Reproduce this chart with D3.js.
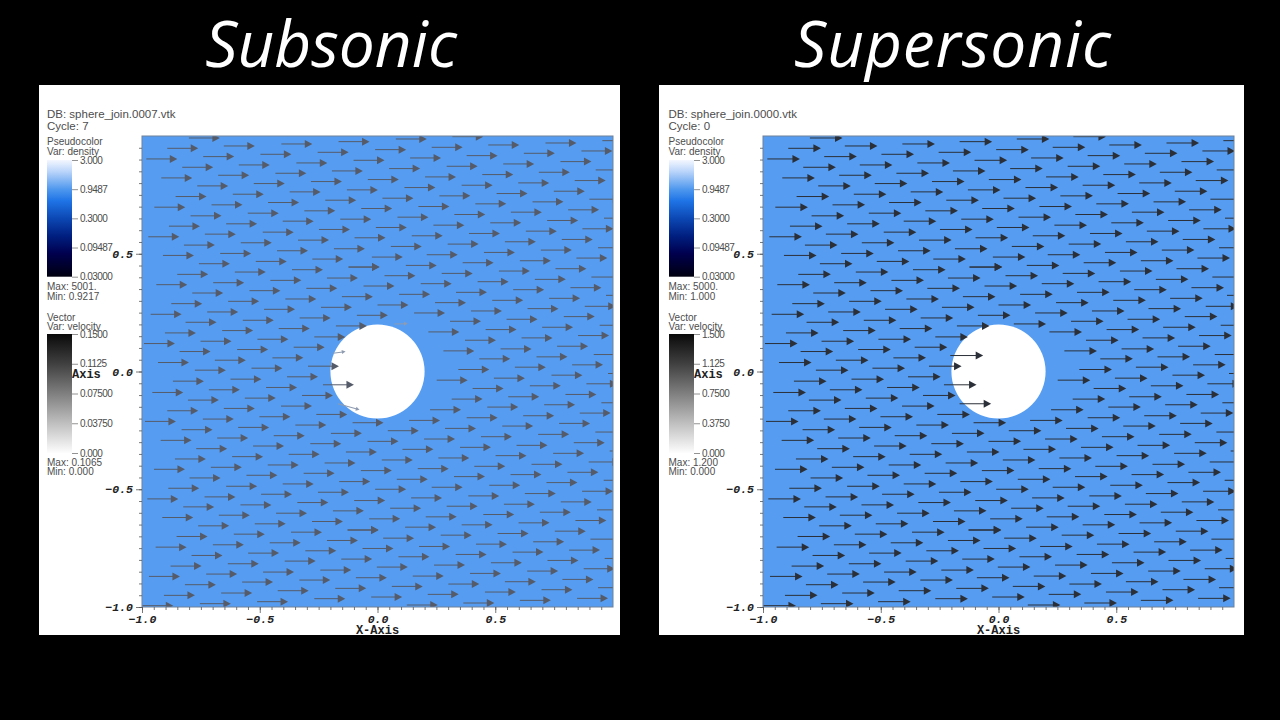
<!DOCTYPE html>
<html>
<head>
<meta charset="utf-8">
<script src="https://cdn.jsdelivr.net/npm/d3@7"></script>
<style>
html, body { margin: 0; padding: 0; background: #000; }
svg { display: block; }
</style>
</head>
<body>
<svg id="chart" width="1280" height="720"></svg>
<script>
// panel texts
const titles = ["Subsonic", "Supersonic"];
const dbNames = ["DB: sphere_join.0007.vtk", "DB: sphere_join.0000.vtk"];
const cycles = ["Cycle: 7", "Cycle: 0"];
const densityMaxMin = [["Max: 5001.", "Min: 0.9217"], ["Max: 5000.", "Min: 1.000"]];
const velocityMaxMin = [["Max: 0.1065", "Min: 0.000"], ["Max: 1.200", "Min: 0.000"]];

// colour bar ticks
const densityTicks = [3, 0.9487, 0.3, 0.09487, 0.03];
const densityLabels = ["3.000", "0.9487", "0.3000", "0.09487", "0.03000"];
const velocityTicks = [[0.15, 0.1125, 0.075, 0.0375, 0], [1.5, 1.125, 0.75, 0.375, 0]];
const velocityLabels = [
    ["0.1500", "0.1125", "0.07500", "0.03750", "0.000"],
    ["1.500", "1.125", "0.7500", "0.3750", "0.000"]
];

// axis ticks
const majorTicks = [-1, -0.5, 0, 0.5];
const minorTicks = d3.range(-20, 20).map(d => d * 0.05);

// obstacle
const sphereRadius = 0.2;

// arrow tails, measured in 1/708 of an axis unit
const perUnit = 708;
const arrowLength = 98;

// x counted from x = -1
const seedsWest = [
    [141,702],[76,671],[246,678],[419,684],[591,691],[13,639],[184,646],[356,653],[528,659],[121,614],
    [291,621],[464,627],[58,582],[229,590],[401,596],[571,603],[166,558],[336,565],[508,571],[101,526],
    [273,533],[444,540],[616,546],[37,494],[209,501],[379,508],[551,515],[146,468],[318,476],[488,483],
    [81,437],[253,444],[423,452],[596,458],[19,405],[189,413],[363,419],[532,427],[126,380],[297,387],
    [469,395],[63,349],[235,355],[406,363],[577,369],[171,324],[342,331],[512,338],[106,292],[279,299],
    [451,306],[621,314],[43,261],[214,267],[386,274],[556,281],[151,236],[323,243],[494,250],[88,204],
    [259,211],[431,218],[601,225],[26,172],[196,179],[367,187],[538,193],[131,148],[303,154],[474,161],
    [69,116],[241,123],[411,129],[583,137],[6,84],[176,91],[347,97],[518,104],[113,60],[286,66],
    [456,73],[48,27],[219,34],[392,41],[329,10],[499,16],
    [159,4],[93,-29],[266,-23],[436,-16],[544,-40],[31,-63],[201,-55],[373,-48],[481,-72],[138,-86],
    [309,-80],[76,-118],[246,-111],[418,-104],[524,-129],[633,-154],[9,-150],[183,-143],[353,-136],[461,-161],
    [289,-168],[119,-175],[568,-186],[678,-210],[396,-193],[56,-207],[226,-200],[506,-217],[334,-224],[163,-232],
    [613,-242],[441,-249],[271,-256],[99,-263],[549,-275],[378,-281],[207,-288],[36,-294],[486,-306],[314,-312],
    [143,-320],[593,-331],[423,-338],[253,-345],[79,-351],[529,-363],[358,-369],[188,-377],[16,-383],[124,-407],
    [296,-401],[467,-394],[574,-419],[403,-426],[231,-432],[61,-439],[511,-451],[339,-458],[169,-464],[618,-477],
    [448,-483],[276,-489],[104,-496],[556,-508],[384,-515],[213,-521],[41,-528],[491,-539],[319,-546],[149,-553],
    [599,-564],[429,-570],[258,-578],[86,-585],[536,-597],[364,-603],[193,-609],[21,-616],[473,-627],[301,-633],
    [129,-641],[581,-652],[408,-659],[238,-666],[66,-673],[518,-683],[346,-692],[174,-698],[1,-704]
];

// x counted from x = 0
const seedsEast = [
    [-7,667],[163,674],[333,681],[505,687],[676,694],[55,699],[225,706],[98,642],[268,649],[440,656],
    [613,663],[-72,635],[35,610],[208,617],[378,624],[550,631],[143,585],[315,592],[485,599],[656,606],
    [-29,577],[81,553],[253,560],[423,567],[593,574],[186,528],[358,535],[530,542],[15,521],[-49,490],
    [123,496],[294,504],[466,510],[637,518],[60,464],[231,472],[401,479],[573,486],[168,440],[339,447],
    [510,454],[681,461],[-5,433],[275,415],[446,422],[616,429],[103,408],[-69,402],[383,390],[554,397],
    [211,383],[40,376],[491,365],[320,358],[148,351],[663,372],[598,341],[-17,344],[428,333],[256,327],
    [85,319],[535,309],[365,302],[193,295],[21,288],[643,284],[473,277],[301,270],[130,264],[-87,314],
    [580,252],[408,246],[236,238],[65,232],[-42,257],[687,229],[516,220],[345,214],[173,207],[0,200],
    [623,196],[451,189],[281,182],[110,176],[-62,169],[560,165],[388,157],[218,151],[668,139],[495,133],
    [325,126],[153,119],[603,108],[433,101],[263,94],[540,76],[370,68],[198,62],[650,51],[478,44],
    [306,38],[585,20],[413,13],[243,6],
    [523,-11],[350,-20],[178,-26],[458,-43],[286,-51],[628,-37],[565,-69],[393,-76],[223,-83],[673,-94],
    [501,-100],[330,-107],[158,-115],[608,-125],[438,-133],[268,-139],[95,-147],[546,-156],[375,-164],[203,-171],
    [31,-178],[655,-182],[483,-189],[311,-196],[140,-203],[590,-214],[418,-222],[248,-228],[75,-234],[698,-239],
    [528,-246],[355,-253],[183,-260],[13,-266],[635,-272],[463,-279],[291,-285],[121,-292],[-50,-298],[571,-303],
    [400,-310],[230,-316],[58,-324],[680,-327],[508,-334],[336,-342],[163,-348],[-7,-354],[615,-360],[443,-367],
    [273,-374],[101,-380],[-70,-388],[551,-392],[380,-399],[208,-405],[38,-411],[660,-416],[488,-423],[318,-430],
    [145,-437],[-25,-443],[595,-448],[424,-455],[253,-461],[83,-468],[-90,-476],[640,-504],[533,-480],[361,-487],
    [190,-492],[17,-501],[468,-512],[296,-519],[125,-526],[-45,-532],[576,-537],[406,-543],[235,-550],[63,-557],
    [683,-562],[511,-568],[341,-575],[170,-582],[-2,-588],[620,-593],[450,-600],[278,-607],[106,-615],[-65,-620],
    [556,-625],[383,-632],[213,-639],[43,-646],[663,-650],[493,-656],[323,-663],[151,-670],[-19,-678],[600,-682],
    [428,-688],[258,-696],[88,-702],[693,-6]
];

// arrows at the sphere surface differ between the two runs: x0, y0, x1, y1
const surfaceSub = [[-134,55,-96,60],[-119,-97,-54,-115],[51,143,91,144]];
const surfaceSup = [[-145,48,-46,48],[-117,-97,-22,-97],[46,143,143,143]];

// layout
const panels = [
    { left: 39, right: 620, plotLeft: 142, barLeft: 47, textLeft: 47, lenScale: 0.95, ink: "#555b68",
      surface: surfaceSub, surfaceInk: "#8e9bb0", surfaceHead: 0.5, titleX: 331, titleGap: 0 },
    { left: 659, right: 1244, plotLeft: 763, barLeft: 669, textLeft: 668.5, lenScale: 1, ink: "#2b2f37",
      surface: surfaceSup, surfaceInk: "#2b2f37", surfaceHead: 1, titleX: 953, titleGap: 0.9 }
];
const panelTop = 85, panelBottom = 635;
const plotTop = 136, plotSize = 471;
const barWidth = 25;
const textColor = "#4d4d4d";
const sansFont = "'Liberation Sans', Arial, sans-serif";
const monoFont = "'Liberation Mono', monospace";

const svg = d3.select("#chart");
svg.append("rect").attr("width", 1280).attr("height", 720).attr("fill", "#000");

const defs = svg.append("defs");

function addGradient(id, stops) {
    const g = defs.append("linearGradient").attr("id", id)
        .attr("x1", 0).attr("x2", 0).attr("y1", 0).attr("y2", 1);
    stops.forEach(s => g.append("stop").attr("offset", s[0]).attr("stop-color", s[1]));
}
addGradient("densityRamp", [[0, "#f4f7ff"], [0.1, "#b9d4fa"], [0.25, "#4f98ee"], [0.35, "#1f74e6"],
    [0.5, "#0c48b4"], [0.65, "#001f80"], [0.8, "#00004f"], [1, "#000010"]]);
addGradient("velocityRamp", [[0, "#0a0a0a"], [0.25, "#404040"], [0.5, "#7f7f7f"], [0.75, "#bfbfbf"], [1, "#fdfdfd"]]);

function headPath(len, half) {
    return `M0,${-half}L${len},0L0,${half}Z`;
}

function drawArrow(g, x0, y0, x1, y1, ink, headScale) {
    const angle = Math.atan2(y1 - y0, x1 - x0) * 180 / Math.PI;
    const full = Math.hypot(x1 - x0, y1 - y0);
    const headLen = 7.5 * headScale;
    const a = g.append("g").attr("transform", `translate(${x0},${y0}) rotate(${angle})`);
    a.append("line").attr("x1", 0).attr("x2", full - headLen + 1).attr("y1", 0).attr("y2", 0)
        .attr("stroke", ink).attr("stroke-width", 1);
    a.append("path").attr("transform", `translate(${full - headLen},0)`)
        .attr("d", headPath(headLen, 4 * headScale)).attr("fill", ink);
}

function label(g, x, y, text, size) {
    return g.append("text").attr("x", x).attr("y", y).text(text)
        .attr("font-family", sansFont).attr("font-size", size || 10)
        .attr("fill", textColor);
}

function barAxis(g, scale, values, labels, x) {
    const axis = d3.axisRight(scale).tickValues(values).tickSize(6).tickPadding(2)
        .tickFormat((d, i) => labels[i]);
    const a = g.append("g").attr("transform", `translate(${x},0)`).call(axis);
    a.select(".domain").remove();
    a.selectAll("line").attr("stroke", "#777").attr("stroke-width", 0.8);
    a.selectAll("text").attr("font-family", sansFont).attr("font-size", 10)
        .attr("letter-spacing", -0.55).attr("fill", textColor);
}

function drawPanel(p, i) {
    const g = svg.append("g");

    svg.append("text").attr("x", p.titleX).attr("y", 67).attr("text-anchor", "middle")
        .attr("font-family", "'Open Sans', sans-serif").attr("font-style", "italic")
        .attr("font-size", 64).attr("letter-spacing", p.titleGap).attr("fill", "#fff").text(titles[i]);

    g.append("rect").attr("x", p.left).attr("y", panelTop)
        .attr("width", p.right - p.left).attr("height", panelBottom - panelTop).attr("fill", "#fff");

    const x = d3.scaleLinear().domain([-1, 1]).range([p.plotLeft, p.plotLeft + plotSize]);
    const y = d3.scaleLinear().domain([-1, 1]).range([plotTop + plotSize, plotTop]);

    // field
    const clipId = "plotClip" + i;
    defs.append("clipPath").attr("id", clipId).append("rect")
        .attr("x", x(-1)).attr("y", y(1)).attr("width", plotSize).attr("height", plotSize);

    g.append("rect").attr("x", x(-1)).attr("y", y(1)).attr("width", plotSize).attr("height", plotSize)
        .attr("fill", "#569df2");
    g.append("circle").attr("cx", x(0)).attr("cy", y(0))
        .attr("r", x(sphereRadius) - x(0)).attr("fill", "#fff");

    const field = g.append("g").attr("clip-path", `url(#${clipId})`);
    const putSeed = (s, origin) => {
        const x0 = x(origin + s[0] / perUnit), y0 = y(s[1] / perUnit);
        const x1 = x(origin + (s[0] + arrowLength * p.lenScale) / perUnit);
        drawArrow(field, x0, y0, x1, y0, p.ink, 1);
    };
    seedsWest.forEach(s => putSeed(s, -1));
    seedsEast.forEach(s => putSeed(s, 0));
    p.surface.forEach(s => {
        drawArrow(field, x(s[0] / perUnit), y(s[1] / perUnit), x(s[2] / perUnit), y(s[3] / perUnit),
            p.surfaceInk, p.surfaceHead);
    });

    g.append("rect").attr("x", x(-1)).attr("y", y(1)).attr("width", plotSize).attr("height", plotSize)
        .attr("fill", "none").attr("stroke", "#6f8199").attr("stroke-width", 1);

    // axes
    const styleTicks = a => {
        a.select(".domain").remove();
        a.selectAll("line").attr("stroke", "#555").attr("stroke-width", 0.8);
    };
    const tickText = a => a.selectAll("text").attr("font-family", monoFont).attr("font-weight", "bold")
        .attr("font-style", "italic").attr("font-size", 11.5).attr("fill", "#222");
    const fmt = d3.format(".1f");

    g.append("g").attr("transform", `translate(${x(-1)},0)`)
        .call(d3.axisLeft(y).tickValues(minorTicks).tickSize(3).tickFormat("")).call(styleTicks);
    g.append("g").attr("transform", `translate(0,${y(-1)})`)
        .call(d3.axisBottom(x).tickValues(minorTicks).tickSize(3).tickFormat("")).call(styleTicks);
    g.append("g").attr("transform", `translate(${x(-1)},0)`)
        .call(d3.axisLeft(y).tickValues(majorTicks).tickSize(6).tickPadding(3).tickFormat(d => fmt(d).replace("-", "\u2212")))
        .call(styleTicks).call(tickText);
    g.append("g").attr("transform", `translate(0,${y(-1)})`)
        .call(d3.axisBottom(x).tickValues(majorTicks).tickSize(6).tickPadding(2).tickFormat(d => fmt(d).replace("-", "\u2212")))
        .call(styleTicks).call(tickText);

    g.append("text").attr("x", x(0)).attr("y", 634).attr("text-anchor", "middle").text("X-Axis")
        .attr("font-family", monoFont).attr("font-weight", "bold").attr("font-size", 12).attr("fill", "#222");
    g.append("text").attr("x", p.barLeft + barWidth).attr("y", 378).text("Axis")
        .attr("font-family", monoFont).attr("font-weight", "bold").attr("font-size", 12).attr("fill", "#222");

    // legend texts
    label(g, p.textLeft, 118, dbNames[i], 11.5);
    label(g, p.textLeft, 129.5, cycles[i], 11.5);
    label(g, p.textLeft, 145, "Pseudocolor", 10);
    label(g, p.textLeft, 154.5, "Var: density", 10);
    label(g, p.textLeft, 290, densityMaxMin[i][0], 10);
    label(g, p.textLeft, 299.5, densityMaxMin[i][1], 10);
    label(g, p.textLeft, 321, "Vector", 10);
    label(g, p.textLeft, 330, "Var: velocity", 10);
    label(g, p.textLeft, 466, velocityMaxMin[i][0], 10);
    label(g, p.textLeft, 475, velocityMaxMin[i][1], 10);

    // colour bars
    const density = d3.scaleLog().domain([0.03, 3]).range([276.7, 160]);
    const velocity = d3.scaleLinear().domain(d3.extent(velocityTicks[i])).range([453, 334]);

    g.append("rect").attr("x", p.barLeft).attr("y", density(3)).attr("width", barWidth)
        .attr("height", density(0.03) - density(3)).attr("fill", "url(#densityRamp)");
    barAxis(g, density, densityTicks, densityLabels, p.barLeft + barWidth);

    const vMax = velocityTicks[i][0];
    g.append("rect").attr("x", p.barLeft).attr("y", velocity(vMax)).attr("width", barWidth)
        .attr("height", velocity(0) - velocity(vMax)).attr("fill", "url(#velocityRamp)");
    barAxis(g, velocity, velocityTicks[i], velocityLabels[i], p.barLeft + barWidth);
}

panels.forEach(drawPanel);
</script>
</body>
</html>
